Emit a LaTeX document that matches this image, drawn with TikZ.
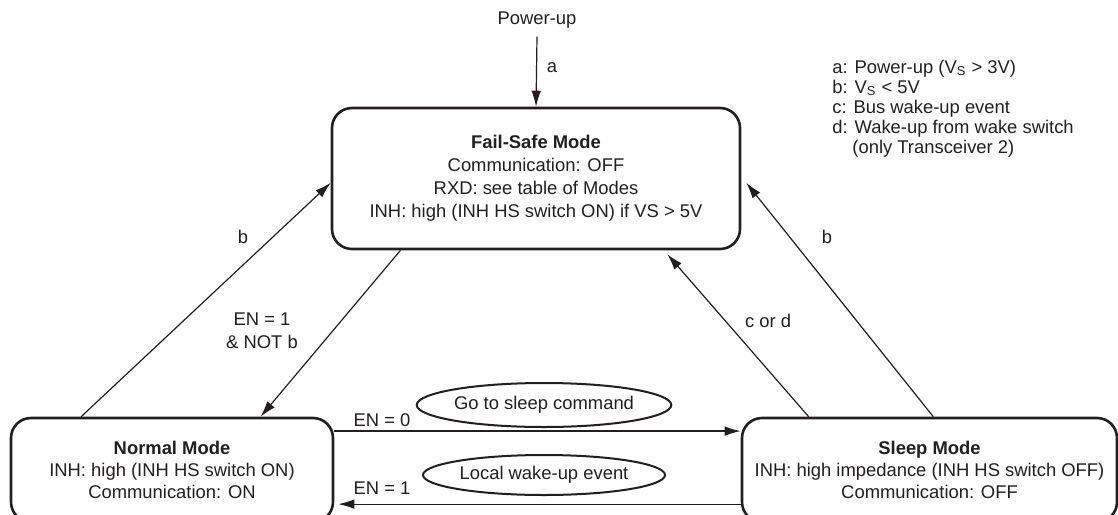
\documentclass[tikz,border=0pt]{standalone}
\usepackage{fontspec}
\setmainfont{Liberation Sans}
\usetikzlibrary{calc,arrows.meta,shapes.geometric}
\definecolor{ink}{RGB}{35,31,32}
\begin{document}
\begin{tikzpicture}[x=0.5pt,y=-0.5pt,
  every node/.style={font=\fontsize{9.2}{11.5}\selectfont, text=ink},
  modebox/.style={draw=ink, line width=1.3pt, rounded corners=10pt, align=center, inner sep=0pt},
  conn/.style={draw=ink, line width=0.6pt, -{Latex[length=8pt,width=4.8pt]}},
  cond/.style={draw=ink, line width=1pt, ellipse, inner sep=0pt},
  lbl/.style={inner sep=0pt, align=center},
  leg/.style={inner sep=0pt, anchor=base west}]
\clip (0,0) rectangle (1118,514);
\fill[white] (0,0) rectangle (1118,514);

\node[modebox, minimum width=204pt, minimum height=70.5pt] (fail) at (536,178.5)
  {\textbf{Fail-Safe Mode}\\Communication: OFF\\RXD: see table of Modes\\INH: high (INH HS switch ON) if VS > 5V};
\node[modebox, minimum width=161pt, minimum height=52pt, font=\fontsize{9.2}{10.8}\selectfont] (normal) at (172,470)
  {\textbf{Normal Mode}\\INH: high (INH HS switch ON)\\Communication: ON};
\node[modebox, minimum width=187.5pt, minimum height=52pt, font=\fontsize{9.2}{10.8}\selectfont] (sleep) at (929.5,470)
  {\textbf{Sleep Mode}\\INH: high impedance (INH HS switch OFF)\\Communication: OFF};

\node[lbl] (power) at (537,20) {Power-up};
\draw[conn] ([yshift=-4pt]power.south) -- (fail.north);
\node[lbl] (la) at (552,68) {a};

\draw[conn] ($(normal.north west)!0.22!(normal.north east)$) -- ($(fail.north west)!0.53!(fail.south west)$);
\node[lbl] (lb1) at (243,237) {b};
\draw[conn] ($(fail.south west)!0.17!(fail.south east)$) -- ($(normal.north west)!0.773!(normal.north east)$);
\node[lbl] (len) at (262,331) {EN = 1\\\& NOT b};

\draw[conn] ($(sleep.north west)!0.18!(sleep.north east)$) -- ($(fail.south west)!0.82!(fail.south east)+(0,4)$);
\node[lbl] (lcd) at (768,321) {c or d};
\draw[conn] ($(sleep.north west)!0.51!(sleep.north east)$) -- ($(fail.north east)!0.53!(fail.south east)+(5,0)$);
\node[lbl] (lb2) at (827,237) {b};

\draw[conn] ($(normal.north east)!0.135!(normal.south east)$) -- ($(sleep.north west)!0.135!(sleep.south west)$);
\node[lbl] (len0) at (382,420) {EN = 0};
\node[cond, minimum width=121pt, minimum height=22pt] (gosleep) at (544,405) {Go to sleep command};
\draw[conn] ($(sleep.north west)!0.82!(sleep.south west)$) -- ($(normal.north east)!0.82!(normal.south east)+(4,0)$);
\node[lbl] (len1) at (382,488) {EN = 1};
\node[cond, minimum width=121pt, minimum height=20pt] (wake) at (544,475) {Local wake-up event};

\node[leg] (lga) at (832,73) {a: Power-up (V\textsubscript{S} > 3V)};
\node[leg] (lgb) at (832,93) {b: V\textsubscript{S} < 5V};
\node[leg] (lgc) at (832,113) {c: Bus wake-up event};
\node[leg] (lgd) at (832,133) {d: Wake-up from wake switch};
\node[leg] (lge) at (852,153) {(only Transceiver 2)};
\end{tikzpicture}
\end{document}
